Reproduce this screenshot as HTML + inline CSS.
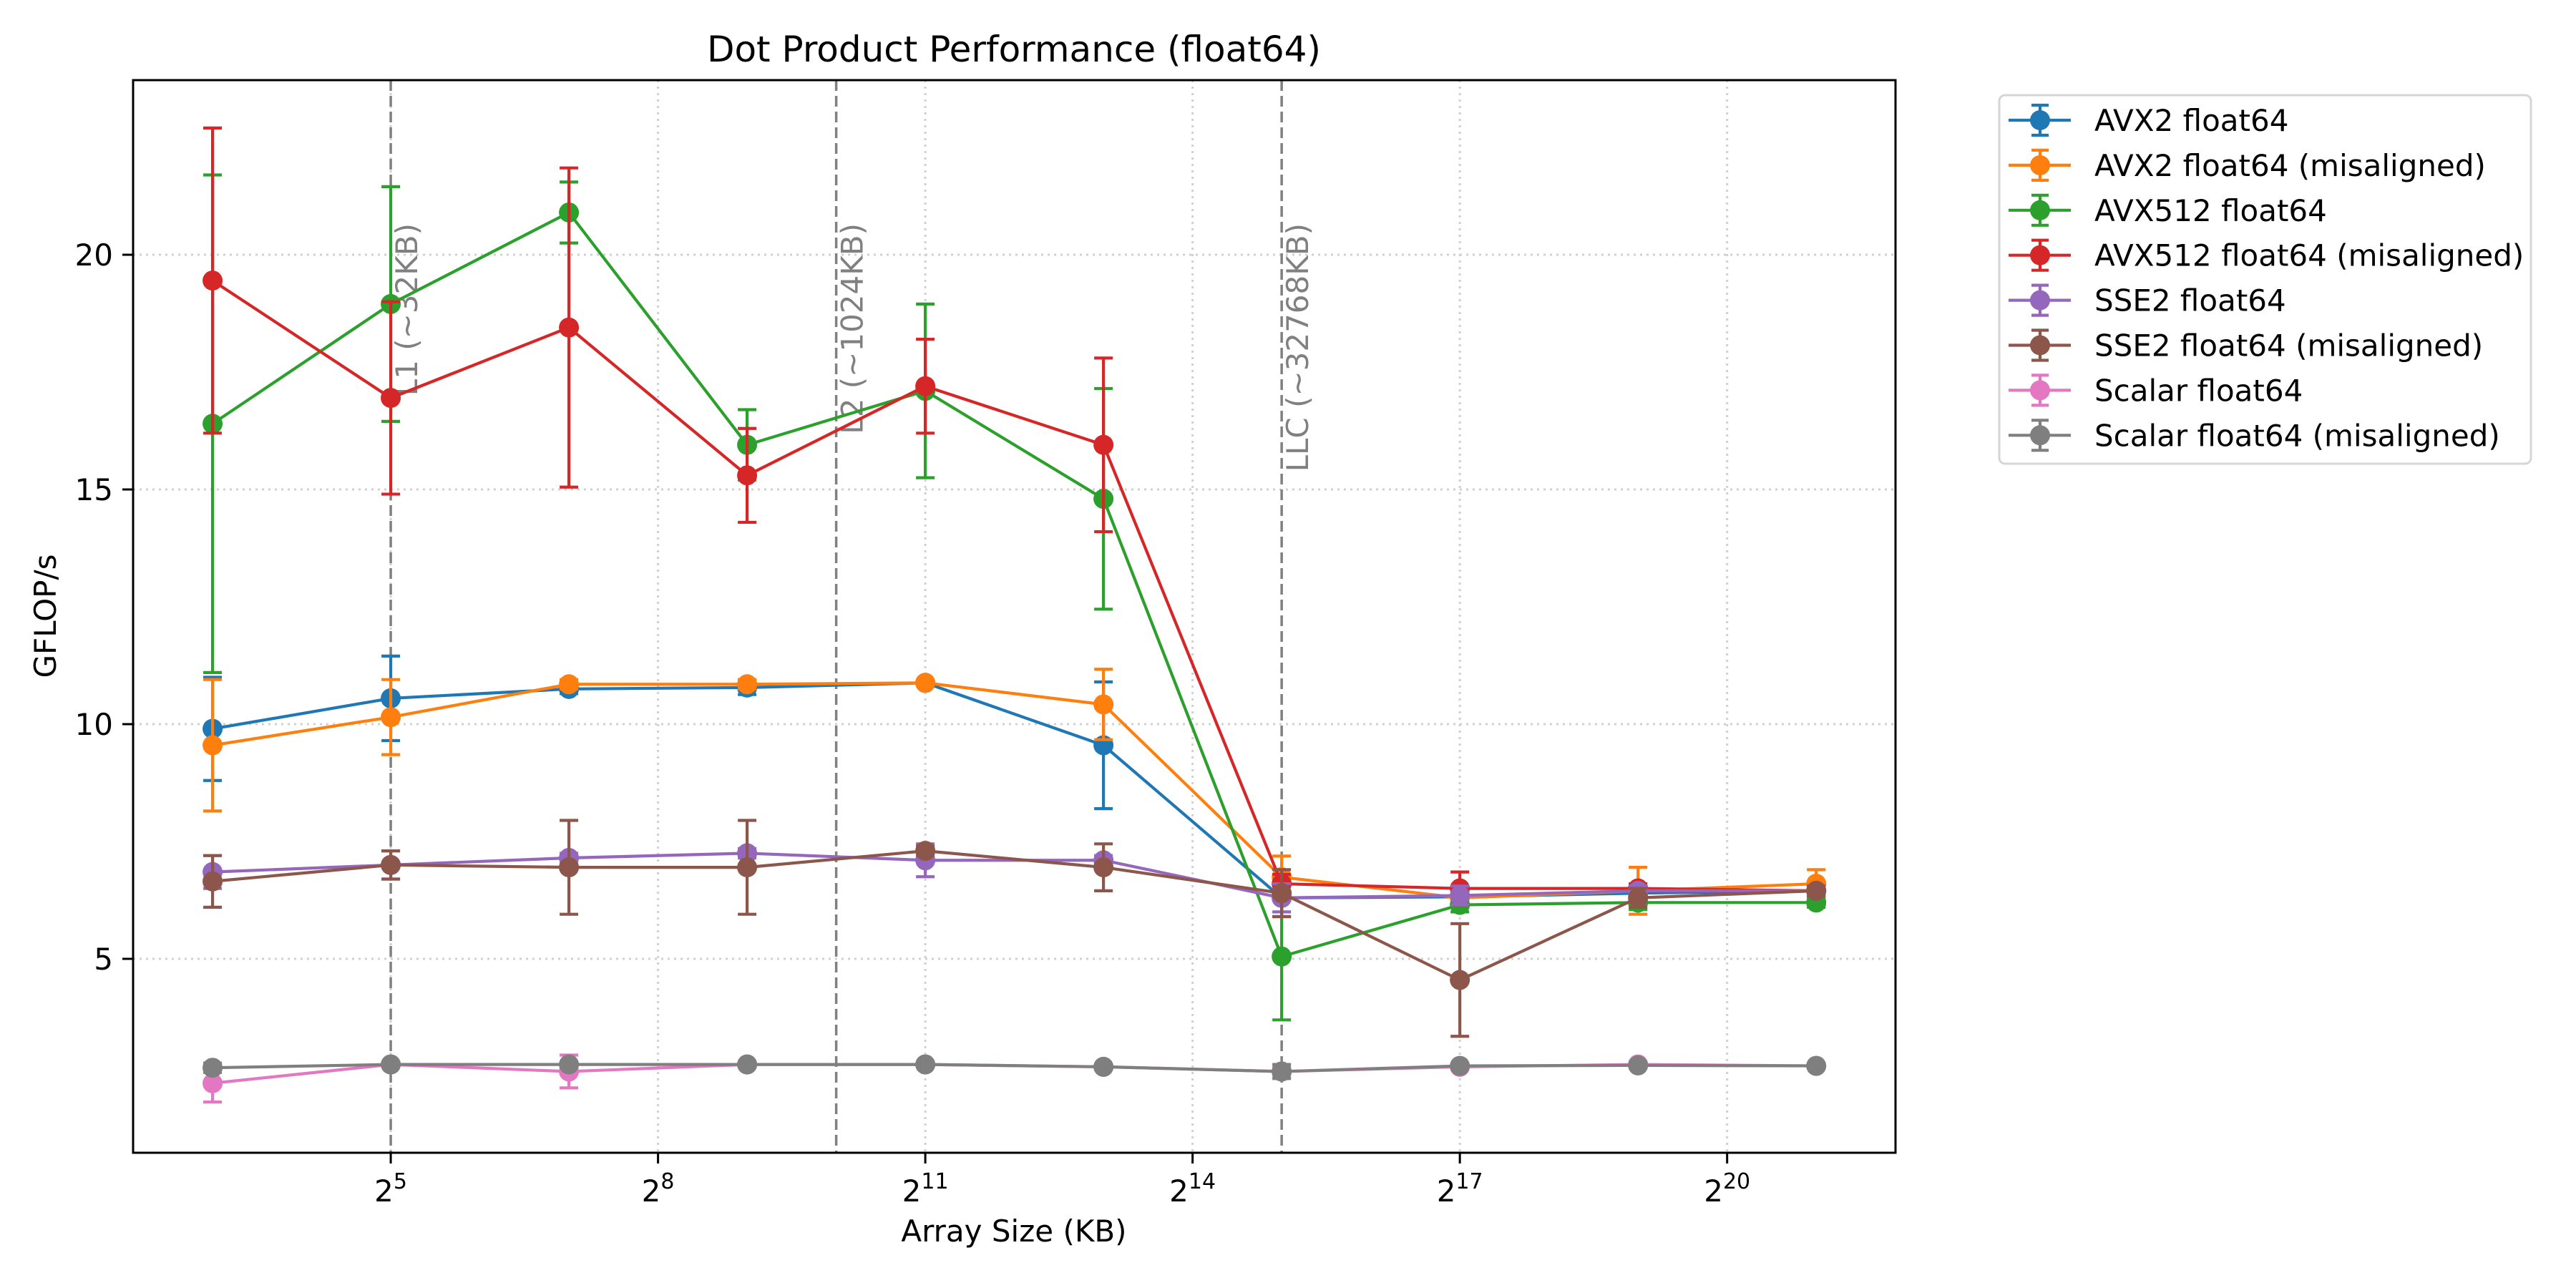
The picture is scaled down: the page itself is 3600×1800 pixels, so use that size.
<!DOCTYPE html>
<html><head><meta charset="utf-8"><style>
html,body{margin:0;padding:0;background:#fff;}
svg{display:block;font-family:"DejaVu Sans","Liberation Sans",sans-serif;}
</style></head><body>
<svg id="chart" width="3600" height="1800" viewBox="0 0 3600 1800" xmlns="http://www.w3.org/2000/svg">
<rect width="3600" height="1800" fill="#fff"/>
<g id="grid"></g>
<g id="vlines"></g>
<g id="series"></g>
<rect x="186" y="112" width="2463" height="1499" fill="none" stroke="#000" stroke-width="3"/>
<g id="axes"></g>
<text x="1417" y="86" font-size="50" text-anchor="middle">Dot Product Performance (float64)</text>
<text x="1417" y="1735" font-size="42" text-anchor="middle">Array Size (KB)</text>
<text x="78" y="861" font-size="42" text-anchor="middle" transform="rotate(-90 78 861)">GFLOP/s</text>
<g id="legend"></g>
</svg>
<script>
const exps = [3,5,7,9,11,13,15,17,19,21];
const names = ["AVX2 float64","AVX2 float64 (misaligned)","AVX512 float64","AVX512 float64 (misaligned)","SSE2 float64","SSE2 float64 (misaligned)","Scalar float64","Scalar float64 (misaligned)"];
const colors = ["#1f77b4","#ff7f0e","#2ca02c","#d62728","#9467bd","#8c564b","#e377c2","#7f7f7f"];
const avx2 = [9.9,10.55,10.75,10.78,10.88,9.55,6.3,6.32,6.4,6.45];
const avx2Err = [1.1,0.9,0.1,0.15,0.05,1.35,0.4,0.1,0.1,0.1];
const avx2m = [9.55,10.15,10.85,10.85,10.88,10.42,6.74,6.3,6.45,6.6];
const avx2mErr = [1.4,0.8,0.1,0.1,0.05,0.75,0.45,0.1,0.5,0.3];
const avx512 = [16.4,18.95,20.9,15.95,17.1,14.8,5.05,6.15,6.2,6.2];
const avx512Err = [5.3,2.5,0.65,0.75,1.85,2.35,1.35,0.15,0.15,0.1];
const avx512m = [19.45,16.95,18.45,15.3,17.2,15.95,6.6,6.5,6.5,6.45];
const avx512mErr = [3.25,2.05,3.4,1.0,1.0,1.85,0.2,0.35,0.1,0.1];
const sse2 = [6.85,7.0,7.15,7.25,7.1,7.1,6.3,6.35,6.45,6.45];
const sse2Err = [0.35,0.3,0.1,0.1,0.35,0.1,0.3,0.2,0.1,0.05];
const sse2m = [6.65,7.0,6.95,6.95,7.3,6.95,6.4,4.55,6.3,6.45];
const sse2mErr = [0.55,0.3,1.0,1.0,0.1,0.5,0.5,1.2,0.2,0.05];
const scalar = [2.35,2.75,2.6,2.75,2.75,2.7,2.6,2.7,2.75,2.72];
const scalarErr = [0.4,0.05,0.35,0.05,0.05,0.05,0.1,0.05,0.05,0.05];
const scalarm = [2.68,2.75,2.75,2.75,2.75,2.7,2.6,2.72,2.73,2.72];
const scalarmErr = [0.1,0.05,0.05,0.05,0.05,0.05,0.15,0.05,0.05,0.05];
const xTickExps = [5,8,11,14,17,20];
const yTicks = [5,10,15,20];
const cacheExps = [5,10,15];
const cacheLabels = ["L1 (~32KB)","L2 (~1024KB)","LLC (~32768KB)"];

const allVals=[avx2,avx2m,avx512,avx512m,sse2,sse2m,scalar,scalarm];
const allErr=[avx2Err,avx2mErr,avx512Err,avx512mErr,sse2Err,sse2mErr,scalarErr,scalarmErr];
const L=186,R=2649,T=112,B=1611;
const xMin=2.108,xMax=21.89,yMin=0.869,yMax=23.72;
const xs=e=>L+(e-xMin)/(xMax-xMin)*(R-L);
const ys=v=>B-(v-yMin)/(yMax-yMin)*(B-T);
const NS="http://www.w3.org/2000/svg";
function mk(tag,attrs,parent){const el=document.createElementNS(NS,tag);for(const k in attrs)el.setAttribute(k,attrs[k]);parent.appendChild(el);return el;}
const grid=document.getElementById('grid'),axes=document.getElementById('axes');
xTickExps.forEach(e=>{
  const x=xs(e);
  const g=mk('line',{x1:x,x2:x,y1:T,y2:B,stroke:'#d0d0d0','stroke-width':3,'stroke-dasharray':'3,6'},grid);
  
  const t=mk('line',{x1:x,x2:x,y1:B,y2:B+15,stroke:'#000','stroke-width':3},axes);
  
  const tx=mk('text',{x:x,y:B+68,'font-size':42,'text-anchor':'middle'},axes);
  
  tx.innerHTML='2<tspan font-size="30" dy="-18">'+e+'</tspan>';
});
yTicks.forEach(v=>{
  const y=ys(v);
  const g=mk('line',{x1:L,x2:R,y1:y,y2:y,stroke:'#d0d0d0','stroke-width':3,'stroke-dasharray':'3,6'},grid);
  
  const t=mk('line',{x1:L-15,x2:L,y1:y,y2:y,stroke:'#000','stroke-width':3},axes);
  
  const tx=mk('text',{x:L-28,y:y+15,'font-size':42,'text-anchor':'end'},axes);
  
  tx.textContent=v;
});
const vl=document.getElementById('vlines');
cacheExps.forEach((e,i)=>{
  const x=xs(e);
  const l=mk('line',{x1:x,x2:x,y1:T,y2:B,stroke:'#808080','stroke-width':3.5,'stroke-dasharray':'15,7'},vl);
  
  const px=x+37,py=312;
  const t=mk('text',{x:px,y:py,'font-size':42,fill:'#808080','text-anchor':'end',transform:`rotate(-90 ${px} ${py})`},vl);
  
  t.textContent=cacheLabels[i];
});
const sg=document.getElementById('series');
allVals.forEach((vals,si)=>{
  const g=mk('g',{},sg);
  
  
  const c=colors[si],err=allErr[si];
  vals.forEach((v,i)=>{
    const x=xs(exps[i]),y1=ys(v-err[i]),y2=ys(v+err[i]);
    const eb=mk('path',{d:`M${x},${y1}V${y2}M${x-13},${y1}H${x+13}M${x-13},${y2}H${x+13}`,stroke:c,'stroke-width':4.2,fill:'none'},g);
    
  });
  const pl=mk('polyline',{points:vals.map((v,i)=>xs(exps[i])+','+ys(v)).join(' '),fill:'none',stroke:c,'stroke-width':4.2},g);
  
  vals.forEach((v,i)=>{
    const m=mk('circle',{cx:xs(exps[i]),cy:ys(v),r:14,fill:c},g);
    
  });
});
const lg=document.getElementById('legend');
const box=mk('rect',{x:2794,y:133,width:743,height:515,rx:8,fill:'#fff',stroke:'#d6d6d6','stroke-width':3},lg);

names.forEach((n,i)=>{
  const y=168+i*62.9,c=colors[i];
  const g=mk('g',{},lg);
  
  mk('path',{d:`M2807,${y}H2894M2851,${y-21}V${y+21}M2839,${y-21}H2863M2839,${y+21}H2863`,stroke:c,'stroke-width':4.2,fill:'none'},g);
  mk('circle',{cx:2851,cy:y,r:14,fill:c},g);
  const t=mk('text',{x:2927,y:y+15,'font-size':42},g);
  t.textContent=n;
});
</script>
</body></html>
